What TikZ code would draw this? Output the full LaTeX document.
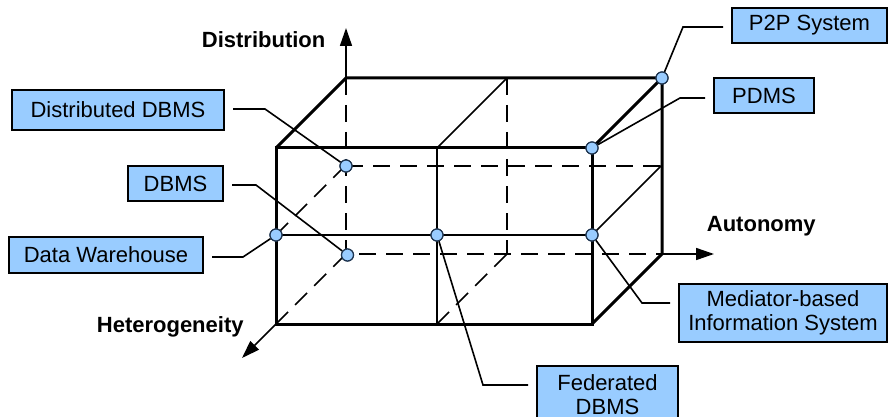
\documentclass[tikz,border=0pt]{standalone}
\usepackage{fontspec}
\setmainfont{Liberation Sans}
\usetikzlibrary{arrows.meta}
\definecolor{boxblue}{HTML}{99CCFF}
\definecolor{dotedge}{HTML}{1F3550}
\tikzset{
  edgethick/.style={line width=1.5pt, line join=miter},
  edgethin/.style={line width=0.8pt},
  edgehidden/.style={line width=0.8pt, dash pattern=on 8.5pt off 5pt},
  axis/.style={line width=0.8pt, -{Triangle[length=9pt,width=6pt]}},
  axislabel/.style={font=\fontsize{11pt}{13pt}\selectfont\bfseries, inner sep=0pt, anchor=base west},
  tag/.style={draw=black, line width=1pt, fill=boxblue, inner sep=0pt,
    align=center, font=\fontsize{11pt}{12pt}\selectfont},
  leader/.style={line width=0.8pt},
  spot/.style={circle, draw=dotedge, line width=0.6pt, fill=boxblue,
    minimum size=6pt, inner sep=0pt}
}
\begin{document}
\begin{tikzpicture}[x=0.5pt, y=-0.5pt, font=\fontsize{11pt}{12pt}\selectfont]
\useasboundingbox (0,0) rectangle (889,417);

% corners of the cube: front face and back face (offset 70,-70)
\coordinate (F1) at (276,148); \coordinate (F2) at (592,148);
\coordinate (F3) at (592,324); \coordinate (F4) at (276,324);
\coordinate (B1) at (346,78);  \coordinate (B2) at (662,78);
\coordinate (B3) at (662,254); \coordinate (B4) at (346,254);

% axes
\coordinate (tipD) at (346,28);
\coordinate (tipA) at (714,254);
\coordinate (tipH) at (242,358);
\draw[axis] (B1) -- (tipD);
\draw[axis] (B3) -- (tipA);
\draw[axis] (F4) -- (tipH);
\node[axislabel] (lblD) at (201.5,47.7) {Distribution};
\node[axislabel] (lblA) at (706.5,231.7) {Autonomy};
\node[axislabel] (lblH) at (96.5,332.7) {Heterogeneity};

% hidden edges
\draw[edgehidden] (B1) -- (B4) -- (B3);
\draw[edgehidden] (F4) -- (B4);
\draw[edgehidden] (507,78) -- (507,254);
\draw[edgehidden] (437,324) -- (507,254);
\draw[edgehidden] (346,166) -- (662,166);
\draw[edgehidden] (276,235) -- (346,165);

% visible dividing lines
\draw[edgethin] (437,148) -- (437,324);
\draw[edgethin] (437,148) -- (507,78);
\draw[edgethin] (276,235) -- (592,235);
\draw[edgethin] (592,235) -- (662,165);

% visible outline
\draw[edgethick] (F1) -- (F2) -- (F3) -- (F4) -- cycle;
\draw[edgethick] (F1) -- (B1) -- (B2) -- (F2);
\draw[edgethick] (B2) -- (B3) -- (F3);

% label boxes
\node[tag, minimum width=106pt, minimum height=20pt] (ddbms) at (118,110) {Distributed DBMS};
\node[tag, minimum width=47.5pt, minimum height=17.5pt] (dbms) at (175.5,183.5) {DBMS};
\node[tag, minimum width=97pt, minimum height=18pt] (dwh) at (106,255) {Data Warehouse};
\node[tag, minimum width=77.5pt, minimum height=17.5pt] (p2p) at (809.5,25.5) {P2P System};
\node[tag, minimum width=50pt, minimum height=17.5pt] (pdms) at (764,95.5) {PDMS};
\node[tag, minimum width=104pt, minimum height=29pt] (mis) at (783,313) {Mediator-based\\Information System};
\node[tag, minimum width=70.5pt, minimum height=29pt] (fdbms) at (607.5,395) {Federated\\DBMS};

% points on the cube
\node[spot] (pDD)  at (346,166) {};
\node[spot] (pDB)  at (347.5,255) {};
\node[spot] (pDW)  at (276,235) {};
\node[spot] (pFD)  at (437,235) {};
\node[spot] (pMI)  at (592,235) {};
\node[spot] (pPD)  at (592,148) {};
\node[spot] (pP2)  at (662,78) {};

% leader lines
\draw[leader] ([xshift=4pt,yshift=0.5pt]ddbms.east) -- (265,109) -- (pDD);
\draw[leader] ([xshift=4pt,yshift=-0.75pt]dbms.east) -- (256,185) -- (pDB);
\draw[leader] ([xshift=4pt,yshift=-1pt]dwh.east) -- (243,257) -- (pDW);
\draw[leader] ([xshift=-4pt,yshift=-0.75pt]p2p.west) -- (683,27) -- (pP2);
\draw[leader] ([xshift=-4pt,yshift=-1.25pt]pdms.west) -- (680,98) -- (pPD);
\draw[leader] ([xshift=-4pt,yshift=5pt]mis.west) -- (642,303) -- (pMI);
\draw[leader] ([xshift=-4pt,yshift=5pt]fdbms.west) -- (483,385) -- (pFD);

% redraw points above their leaders
\foreach \p in {pDD,pDB,pDW,pFD,pMI,pPD,pP2}
  \node[spot] at (\p) {};
\end{tikzpicture}
\end{document}
